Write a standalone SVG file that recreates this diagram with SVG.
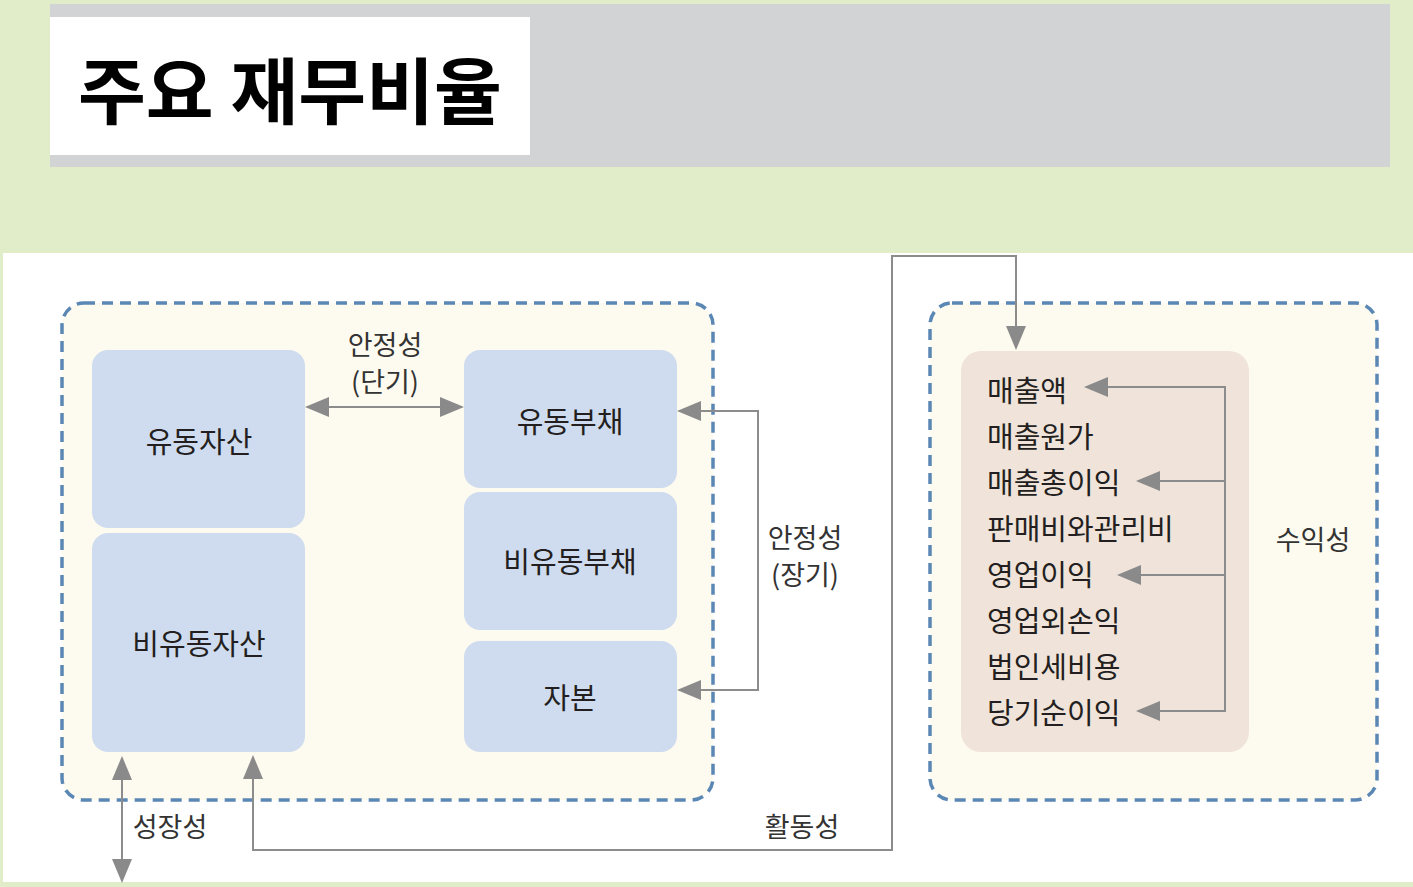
<svg xmlns="http://www.w3.org/2000/svg" width="1413" height="887" viewBox="0 0 1413 887">
<style>
text{font-family:"Noto Sans CJK KR","Noto Sans",sans-serif;fill:#231f20}
.node{fill:#cfdcef}
.nl{font-size:29px;text-anchor:middle;dominant-baseline:central}
.lab{font-size:27px;text-anchor:middle;dominant-baseline:central;fill:#333}
.item{font-size:29px;dominant-baseline:central}
.frame{fill:#fdfbef;stroke:#5b87b5;stroke-width:3.5;stroke-dasharray:11 7}
.con{fill:none;stroke:#8c8c8c;stroke-width:2}
</style>
<defs>
<marker id="ah" viewBox="0 0 24 20" refX="22" refY="10" markerWidth="24" markerHeight="20" markerUnits="userSpaceOnUse" orient="auto-start-reverse">
<path d="M0,0 L24,10 L0,20 z" fill="#8a8a8a"/>
</marker>
</defs>
<rect x="0" y="0" width="1413" height="887" fill="#e1edc9"/>
<rect x="3" y="253" width="1410" height="629" fill="#ffffff"/>
<rect x="50" y="4" width="1340" height="163" fill="#d1d3d4"/>
<rect x="50" y="17" width="480" height="138" fill="#ffffff"/>
<text x="78" y="86" textLength="424" lengthAdjust="spacingAndGlyphs" style="font-size:72px;font-weight:bold;dominant-baseline:central;fill:#000">주요 재무비율</text>

<g id="frame-left"><rect class="frame" x="62" y="303" width="651" height="497" rx="22"/></g>
<g id="frame-right"><rect class="frame" x="930" y="303" width="447" height="497" rx="22"/></g>

<g id="n-current-assets"><rect class="node" x="92" y="350" width="213" height="178" rx="16"/><text class="nl" x="199" y="440">유동자산</text></g>
<g id="n-noncurrent-assets"><rect class="node" x="92" y="533" width="213" height="219" rx="16"/><text class="nl" x="199" y="642">비유동자산</text></g>
<g id="n-current-liab"><rect class="node" x="464" y="350" width="213" height="138" rx="16"/><text class="nl" x="570" y="420">유동부채</text></g>
<g id="n-noncurrent-liab"><rect class="node" x="464" y="492" width="213" height="138" rx="16"/><text class="nl" x="570" y="560">비유동부채</text></g>
<g id="n-equity"><rect class="node" x="464" y="641" width="213" height="111" rx="16"/><text class="nl" x="570" y="696">자본</text></g>

<g id="n-income">
<rect x="961" y="351" width="288" height="401" rx="20" fill="#efe3da"/>
<text class="item" x="987" y="389">매출액</text>
<text class="item" x="987" y="435">매출원가</text>
<text class="item" x="987" y="481">매출총이익</text>
<text class="item" x="987" y="527">판매비와관리비</text>
<text class="item" x="987" y="573">영업이익</text>
<text class="item" x="987" y="619">영업외손익</text>
<text class="item" x="987" y="665">법인세비용</text>
<text class="item" x="987" y="711">당기순이익</text>
</g>

<g id="connectors">
<line class="con" x1="307" y1="407" x2="462" y2="407" marker-start="url(#ah)" marker-end="url(#ah)"/>
<path class="con" d="M679,411 H758 V690 H679" marker-start="url(#ah)" marker-end="url(#ah)"/>
<line class="con" x1="122" y1="758" x2="122" y2="881" marker-start="url(#ah)" marker-end="url(#ah)"/>
<path class="con" d="M253,757 V850 H892 V256 H1016 V348" marker-start="url(#ah)" marker-end="url(#ah)"/>
<path class="con" d="M1086,387 H1225 V711 H1138" marker-start="url(#ah)" marker-end="url(#ah)"/>
<line class="con" x1="1138" y1="481" x2="1225" y2="481" marker-start="url(#ah)"/>
<line class="con" x1="1119" y1="575" x2="1225" y2="575" marker-start="url(#ah)"/>
</g>

<g id="labels">
<text class="lab" x="385" y="343">안정성</text>
<text class="lab" x="385" y="380">(단기)</text>
<text class="lab" x="805" y="536">안정성</text>
<text class="lab" x="805" y="573">(장기)</text>
<text class="lab" x="170" y="825">성장성</text>
<text class="lab" x="802" y="825">활동성</text>
<text class="lab" x="1313" y="538">수익성</text>
</g>
</svg>
